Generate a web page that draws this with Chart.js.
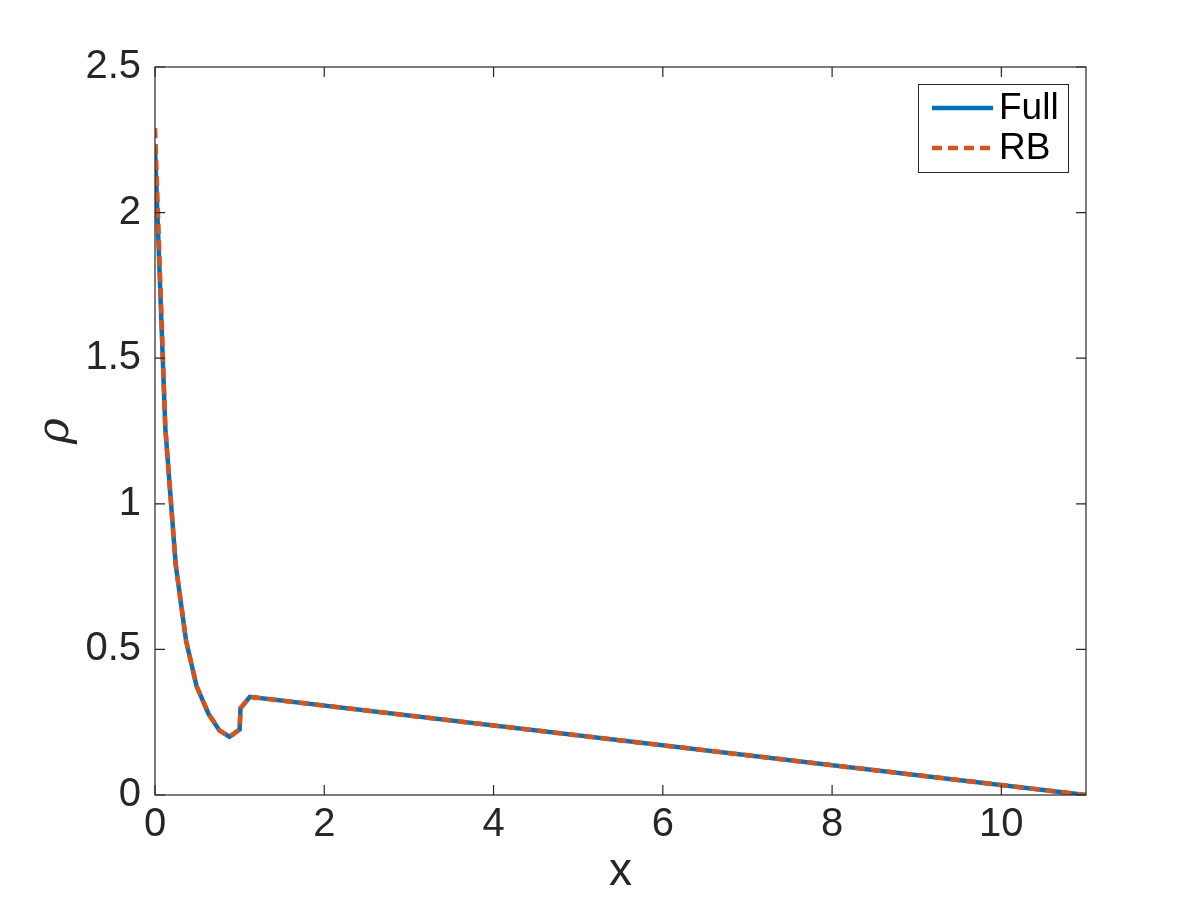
<!DOCTYPE html>
<html>
<head>
<meta charset="utf-8">
<title>rho vs x</title>
<script src="https://cdn.jsdelivr.net/npm/chart.js@4.4.1/dist/chart.umd.min.js"></script>
<style>
  body { margin: 0; background: #fff; }
  canvas { display: block; }
</style>
</head>
<body>
<canvas id="rho-chart" width="1200" height="900"></canvas>
<script>
// values
const xPoints = [0, 0.122, 0.245, 0.367, 0.49, 0.63, 0.76, 0.88, 1.0, 1.01, 1.12, 11];
const rhoFull = [2.22, 1.26, 0.79, 0.53, 0.375, 0.28, 0.222, 0.200, 0.225, 0.298, 0.337, 0.0];
const rhoRB   = [2.29, 1.26, 0.79, 0.53, 0.375, 0.28, 0.222, 0.200, 0.225, 0.298, 0.337, 0.0];
const xTicks = [0, 2, 4, 6, 8, 10];
const yTicks = [0, 0.5, 1, 1.5, 2, 2.5];
const seriesNames = ['Full', 'RB'];

const axisColor = '#262626';
const fontFamily = '"Liberation Sans", Helvetica, Arial, sans-serif';

function toPoints(xs, ys) {
    return xs.map((x, i) => ({ x: x, y: ys[i] }));
}

// matlab style box with inward ticks on all four sides
const boxPlugin = {
    id: 'boxPlugin',
    afterDraw(chart) {
        const ctx = chart.ctx;
        const a = chart.chartArea;
        const xs = chart.scales.x;
        const ys = chart.scales.y;
        const len = 10;
        ctx.save();
        ctx.strokeStyle = axisColor;
        ctx.lineWidth = 1.2;
        ctx.strokeRect(a.left, a.top, a.right - a.left, a.bottom - a.top);
        ctx.beginPath();
        xTicks.forEach(v => {
            const px = xs.getPixelForValue(v);
            ctx.moveTo(px, a.bottom); ctx.lineTo(px, a.bottom - len);
            ctx.moveTo(px, a.top); ctx.lineTo(px, a.top + len);
        });
        yTicks.forEach(v => {
            const py = ys.getPixelForValue(v);
            ctx.moveTo(a.left, py); ctx.lineTo(a.left + len, py);
            ctx.moveTo(a.right, py); ctx.lineTo(a.right - len, py);
        });
        ctx.stroke();
        ctx.restore();
    }
};

const legendPlugin = {
    id: 'boxLegend',
    afterDraw(chart) {
        const ctx = chart.ctx;
        const a = chart.chartArea;
        const w = 150, h = 88;
        const left = a.right - 18 - w;
        const top = a.top + 17;
        ctx.save();
        ctx.fillStyle = '#fff';
        ctx.fillRect(left, top, w, h);
        ctx.strokeStyle = axisColor;
        ctx.lineWidth = 1;
        ctx.strokeRect(left + 0.5, top + 0.5, w, h);
        ctx.font = '37px ' + fontFamily;
        ctx.textBaseline = 'middle';
        ctx.fillStyle = '#000';
        chart.data.datasets.forEach((ds, i) => {
            const cy = top + 24 + i * 40;
            ctx.beginPath();
            ctx.strokeStyle = ds.borderColor;
            ctx.lineWidth = ds.borderWidth;
            ctx.setLineDash(ds.borderDash || []);
            ctx.moveTo(left + 14, cy);
            ctx.lineTo(left + 75, cy);
            ctx.stroke();
            ctx.setLineDash([]);
            ctx.fillText(ds.label, left + 81, cy + 1);
        });
        ctx.restore();
    }
};

const chart = new Chart(document.getElementById('rho-chart'), {
    type: 'scatter',
    data: {
        datasets: [
            {
                label: seriesNames[0],
                data: toPoints(xPoints, rhoFull),
                showLine: true,
                borderColor: '#0072BD',
                borderWidth: 4.5,
                pointRadius: 0,
                tension: 0,
                order: 1
            },
            {
                label: seriesNames[1],
                data: toPoints(xPoints, rhoRB),
                showLine: true,
                borderColor: '#D95319',
                borderWidth: 4.5,
                borderDash: [10, 6],
                pointRadius: 0,
                tension: 0,
                order: 0
            }
        ]
    },
    options: {
        responsive: false,
        animation: false,
        devicePixelRatio: 1,
        layout: { padding: { top: 67, right: 114, left: 0, bottom: 0 } },
        plugins: {
            legend: { display: false },
            tooltip: { enabled: false }
        },
        scales: {
            x: {
                type: 'linear',
                min: 0,
                max: 11,
                border: { display: false },
                grid: { display: false, drawTicks: false },
                afterBuildTicks: scale => { scale.ticks = xTicks.map(v => ({ value: v })); },
                afterFit: scale => { scale.height = 105; },
                ticks: {
                    color: axisColor,
                    padding: 6,
                    maxRotation: 0,
                    callback: v => String(v),
                    font: { size: 40, family: fontFamily }
                },
                title: {
                    display: true,
                    text: 'x',
                    color: axisColor,
                    padding: { top: 0, bottom: 0 },
                    font: { size: 46, family: fontFamily }
                }
            },
            y: {
                type: 'linear',
                min: 0,
                max: 2.5,
                border: { display: false },
                grid: { display: false, drawTicks: false },
                afterBuildTicks: scale => { scale.ticks = yTicks.map(v => ({ value: v })); },
                afterFit: scale => { scale.width = 155; },
                ticks: {
                    color: axisColor,
                    padding: 14,
                    callback: v => String(v),
                    font: { size: 40, family: fontFamily }
                },
                title: {
                    display: true,
                    text: 'ρ',
                    color: axisColor,
                    padding: { top: 30, bottom: 0 },
                    font: { size: 44, family: '"DejaVu Serif", "Liberation Serif", serif', style: 'italic' }
                }
            }
        }
    },
    plugins: [boxPlugin, legendPlugin]
});
</script>
</body>
</html>
